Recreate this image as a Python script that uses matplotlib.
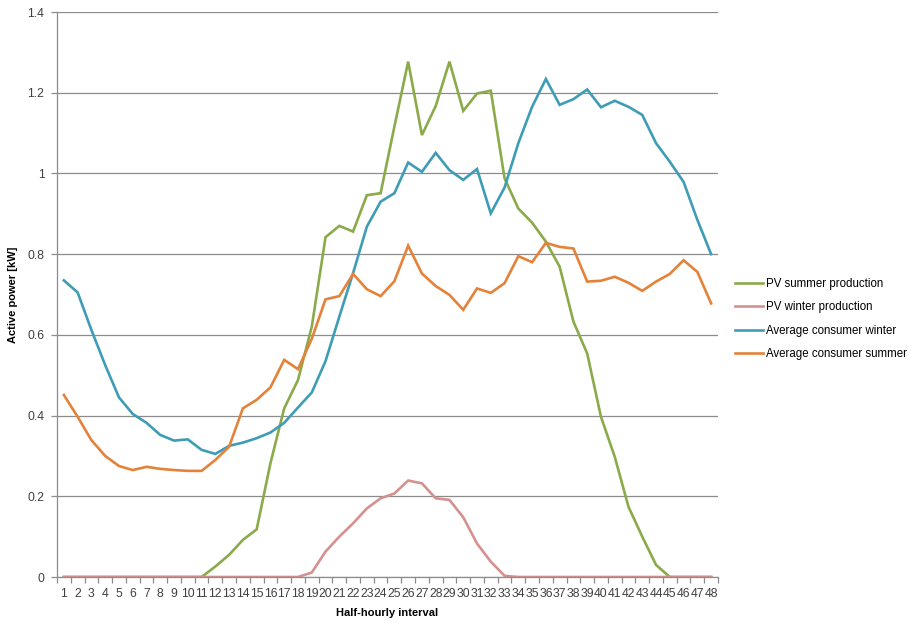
import matplotlib
matplotlib.use("Agg")
import matplotlib.pyplot as plt
from matplotlib.ticker import FixedLocator, NullFormatter

intervals = list(range(1, 49))

pv_summer = [0, 0, 0, 0, 0, 0, 0, 0, 0, 0,
             0.0, 0.026, 0.055, 0.092, 0.118, 0.282, 0.418, 0.488, 0.62, 0.842,
             0.870, 0.856, 0.946, 0.951, 1.116, 1.277, 1.095, 1.167, 1.277, 1.155,
             1.198, 1.205, 0.988, 0.913, 0.878, 0.831, 0.769, 0.633, 0.554, 0.397,
             0.298, 0.174, 0.100, 0.030, 0.0, 0, 0, 0]

pv_winter = [0, 0, 0, 0, 0, 0, 0, 0, 0, 0,
             0, 0, 0, 0, 0, 0, 0, 0, 0.011, 0.063,
             0.100, 0.133, 0.170, 0.195, 0.207, 0.239, 0.232, 0.195, 0.191, 0.148,
             0.083, 0.038, 0.003, 0, 0, 0, 0, 0, 0, 0,
             0, 0, 0, 0, 0, 0, 0, 0]

cons_winter = [0.735, 0.705, 0.612, 0.525, 0.445, 0.404, 0.382, 0.352, 0.338, 0.341,
               0.315, 0.305, 0.325, 0.333, 0.344, 0.358, 0.382, 0.420, 0.457, 0.535,
               0.645, 0.753, 0.868, 0.930, 0.951, 1.027, 1.004, 1.051, 1.008, 0.984,
               1.011, 0.901, 0.965, 1.075, 1.165, 1.234, 1.170, 1.184, 1.208, 1.164,
               1.180, 1.165, 1.145, 1.075, 1.029, 0.979, 0.885, 0.800]

cons_summer = [0.451, 0.397, 0.339, 0.300, 0.275, 0.265, 0.273, 0.268, 0.265, 0.263,
               0.263, 0.290, 0.323, 0.418, 0.439, 0.470, 0.538, 0.515, 0.590, 0.688,
               0.696, 0.751, 0.713, 0.696, 0.733, 0.821, 0.752, 0.721, 0.699, 0.662,
               0.715, 0.704, 0.728, 0.795, 0.780, 0.828, 0.818, 0.814, 0.732, 0.734,
               0.744, 0.729, 0.709, 0.732, 0.751, 0.785, 0.756, 0.678]

series_names = ["PV summer production", "PV winter production",
                "Average consumer winter", "Average consumer summer"]
colors = ["#8BAA4A", "#D4918F", "#3E9DB5", "#E5823A"]

plt.rcParams['font.family'] = ['Liberation Sans', 'DejaVu Sans']

fig = plt.figure(figsize=(9.12, 6.23), dpi=100)
ax = fig.add_axes([57/912, 1 - 577/623, (718 - 57)/912, (577 - 12)/623])

for data, name, c in zip([pv_summer, pv_winter, cons_winter, cons_summer], series_names, colors):
    ax.plot(intervals, data, color=c, lw=1.9, label=name, solid_joinstyle='miter')

ax.set_xlim(0.5, 48.5)
ax.set_ylim(0, 1.4)
yt = [0, 0.2, 0.4, 0.6, 0.8, 1.0, 1.2, 1.4]
ax.set_yticks(yt)
ax.set_yticklabels([f"{v:g}" for v in yt])
ax.yaxis.grid(True, color="#8c8c8c", lw=0.9)
ax.set_axisbelow(True)

ax.set_xticks(intervals)
ax.set_xticklabels([str(i) for i in intervals])
ax.xaxis.set_minor_locator(FixedLocator([i + 0.5 for i in range(0, 49)]))
ax.xaxis.set_minor_formatter(NullFormatter())
ax.tick_params(axis='x', which='major', length=0, pad=8, labelsize=8.8, labelcolor="#404040")
ax.tick_params(axis='x', which='minor', length=4, color="#8c8c8c", width=0.9)
ax.tick_params(axis='y', length=4, color="#8c8c8c", width=0.9, labelsize=8.8, labelcolor="#404040", pad=5)

for s in ['top', 'right']:
    ax.spines[s].set_visible(False)
for s in ['left', 'bottom']:
    ax.spines[s].set_color("#8c8c8c")
    ax.spines[s].set_linewidth(0.9)

ax.set_ylabel("Active power [kW]", fontsize=8, fontweight='bold')
ax.yaxis.set_label_coords((18 - 57) / 661, 0.5)
ax.set_xlabel("Half-hourly interval", fontsize=8, fontweight='bold', labelpad=6)

leg = fig.legend(loc='upper left', bbox_to_anchor=(730/912, 1 - 273/623), frameon=False,
                 fontsize=8.3, handlelength=2.5, handletextpad=0.2, labelspacing=1.0,
                 borderaxespad=0)

fig.savefig("out.png", dpi=100)
